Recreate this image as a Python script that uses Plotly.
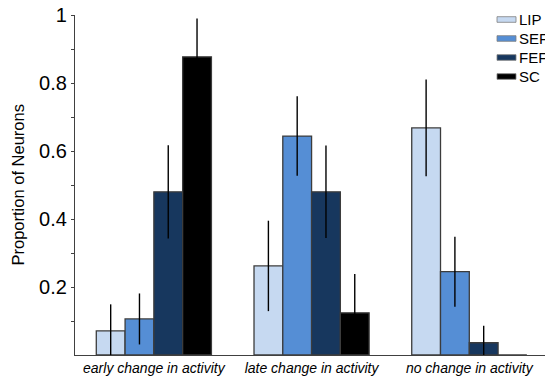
import plotly.graph_objects as go

# Categories and per-area proportions with their error half-widths
categories = ["early change in activity", "late change in activity", "no change in activity"]
areas = ["LIP", "SEF", "FEF", "SC"]

lip = [0.071, 0.262, 0.668]
sef = [0.106, 0.644, 0.245]
fef = [0.480, 0.480, 0.036]
sc = [0.877, 0.124, 0.0]

lip_err = [0.078, 0.133, 0.142]
sef_err = [0.075, 0.117, 0.103]
fef_err = [0.137, 0.136, 0.050]
sc_err = [0.113, 0.114, 0.0]

colors = ["#c6d9f1", "#558ed5", "#17375e", "#000000"]

y_ticks = [0.2, 0.4, 0.6, 0.8, 1.0]
y_tick_text = ["0.2", "0.4", "0.6", "0.8", "1"]
y_minor = [0.1, 0.3, 0.5, 0.7, 0.9]

values = [lip, sef, fef, sc]
errors = [lip_err, sef_err, fef_err, sc_err]

W, H = 545, 380
ML, MR, MT, MB = 75, 0, 15, 25

fig = go.Figure()
for name, vals, errs, col in zip(areas, values, errors, colors):
    # zero-height bars carry no error bar
    err_arr = [e if v > 0 else None for v, e in zip(vals, errs)]
    fig.add_trace(go.Bar(
        x=list(range(len(categories))),
        y=vals,
        name=name,
        marker=dict(color=col, line=dict(color="#3c3c3c", width=1.3)),
        error_y=dict(type="data", array=err_arr, visible=True,
                     color="#000000", thickness=1.4, width=0),
        showlegend=False,
    ))

# Legend drawn as swatches with labels in the top-right corner
plot_w = W - ML - MR
plot_h = H - MT - MB
def px_x(px):
    return (px - ML) / plot_w
def px_y(py):
    return (H - MB - py) / plot_h

row_centers = [19.5, 38.5, 57.5, 76.5]
for name, col, cy in zip(areas, colors, row_centers):
    fig.add_shape(type="rect", xref="paper", yref="paper",
                  x0=px_x(497), x1=px_x(516),
                  y0=px_y(cy + 2.8), y1=px_y(cy - 2.8),
                  fillcolor=col, line=dict(color="#7f7f7f", width=0.8))
    fig.add_annotation(x=px_x(517), y=px_y(cy), xref="paper", yref="paper",
                       text=name, showarrow=False, xanchor="left", yanchor="middle",
                       font=dict(family="Liberation Sans, Arial", size=15, color="black"))

# Y-axis title placed as rotated text left of the tick labels
fig.add_annotation(x=px_x(17.5), y=0.5, xref="paper", yref="paper",
                   text="Proportion of Neurons", textangle=-90, showarrow=False,
                   xanchor="center", yanchor="middle",
                   font=dict(family="Liberation Sans, Arial", size=16.5, color="black"))

fig.update_layout(
    width=W, height=H,
    margin=dict(l=ML, r=MR, t=MT, b=MB, pad=0),
    paper_bgcolor="white", plot_bgcolor="white",
    barmode="group", bargap=0.27, bargroupgap=0.0,
    font=dict(family="Liberation Sans, Arial", color="black"),
    xaxis=dict(
        range=[-0.5, 2.48],
        tickvals=list(range(len(categories))),
        ticktext=categories,
        tickfont=dict(size=14, style="italic", color="black"),
        showline=True, linecolor="#404040", linewidth=1.2,
        ticks="", showgrid=False, zeroline=False,
    ),
    yaxis=dict(
        range=[0, 1],
        tickvals=y_ticks, ticktext=y_tick_text,
        tickfont=dict(size=20, color="black"),
        ticks="outside", ticklen=3, tickcolor="#404040", tickwidth=1,
        minor=dict(tickvals=y_minor, ticks="outside", ticklen=3,
                   tickcolor="#404040", tickwidth=1),
        showline=True, linecolor="#404040", linewidth=1.2,
        showgrid=False, zeroline=False,
    ),
)

fig.write_html("out.html")
